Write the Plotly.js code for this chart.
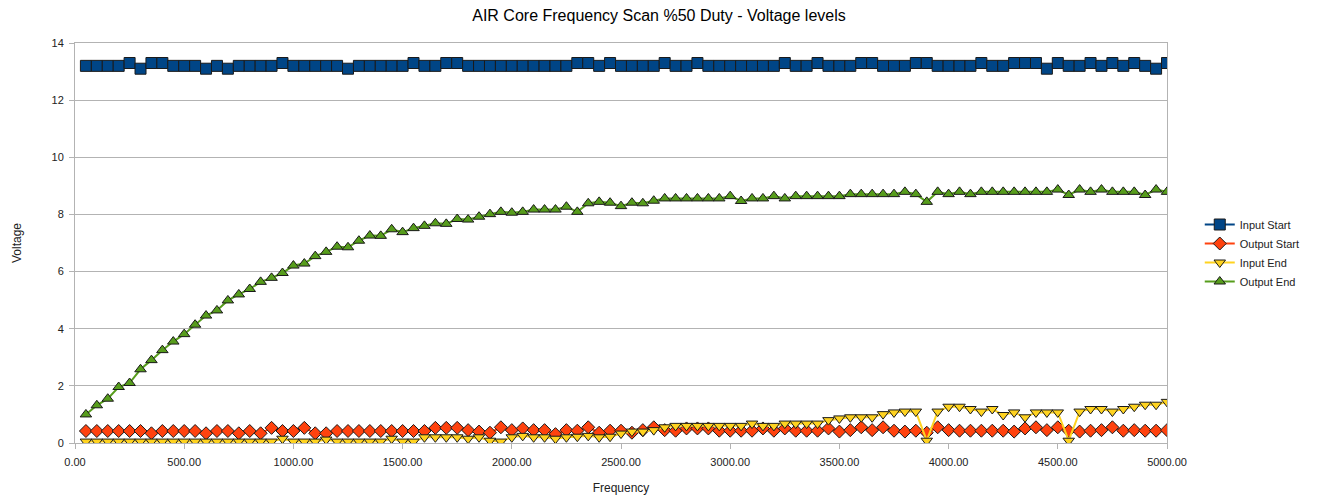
<!DOCTYPE html>
<html>
<head>
<meta charset="utf-8">
<script src="https://cdn.plot.ly/plotly-3.0.1.min.js"></script>
<style>html,body{margin:0;padding:0;background:#fff;}#chart{width:1318px;height:500px;}</style>
</head>
<body>
<div id="chart"></div>
<script>
// Frequency points (Hz)
const frequency = [];
for (let f = 50; f <= 5000; f += 50) frequency.push(f);

const inputStart = [
13.2,13.2,13.2,13.2,13.3,13.1,13.3,13.3,13.2,13.2,
13.2,13.1,13.2,13.1,13.2,13.2,13.2,13.2,13.3,13.2,
13.2,13.2,13.2,13.2,13.1,13.2,13.2,13.2,13.2,13.2,
13.3,13.2,13.2,13.3,13.3,13.2,13.2,13.2,13.2,13.2,
13.2,13.2,13.2,13.2,13.2,13.3,13.3,13.2,13.3,13.2,
13.2,13.2,13.2,13.3,13.2,13.2,13.3,13.2,13.2,13.2,
13.2,13.2,13.2,13.2,13.3,13.2,13.2,13.3,13.2,13.2,
13.2,13.3,13.3,13.2,13.2,13.2,13.3,13.3,13.2,13.2,
13.2,13.2,13.3,13.2,13.2,13.3,13.3,13.3,13.1,13.3,
13.2,13.2,13.3,13.2,13.3,13.2,13.3,13.2,13.1,13.3
];

const outputStart = [
0.42,0.42,0.42,0.42,0.42,0.42,0.34,0.42,0.42,0.42,
0.42,0.34,0.42,0.42,0.34,0.42,0.34,0.53,0.42,0.42,
0.53,0.34,0.34,0.42,0.42,0.42,0.42,0.42,0.42,0.42,
0.42,0.42,0.53,0.53,0.53,0.45,0.4,0.36,0.55,0.45,
0.51,0.45,0.45,0.31,0.45,0.43,0.55,0.36,0.43,0.43,
0.36,0.45,0.55,0.45,0.43,0.51,0.51,0.51,0.43,0.43,
0.43,0.43,0.51,0.43,0.51,0.43,0.43,0.43,0.51,0.4,
0.45,0.55,0.45,0.55,0.43,0.4,0.43,0.36,0.55,0.45,
0.43,0.43,0.43,0.43,0.43,0.4,0.51,0.55,0.45,0.55,
0.43,0.4,0.43,0.45,0.55,0.43,0.45,0.43,0.43,0.45
];

const inputEnd = [
0.05,0.05,0.05,0.05,0.05,0.05,0.05,0.05,0.05,0.05,
0.05,0.05,0.05,0.05,0.05,0.05,0.05,0.05,0.15,0.05,
0.05,0.05,0.12,0.05,0.05,0.05,0.05,0.05,0.15,0.05,
0.05,0.2,0.2,0.2,0.2,0.15,0.2,0.08,0.05,0.2,
0.25,0.2,0.2,0.15,0.2,0.22,0.25,0.2,0.22,0.33,
0.4,0.4,0.45,0.55,0.6,0.6,0.6,0.6,0.6,0.6,
0.6,0.68,0.6,0.6,0.68,0.68,0.68,0.68,0.8,0.86,
0.9,0.9,0.9,1.01,1.07,1.1,1.1,0.08,1.1,1.27,
1.27,1.19,1.1,1.19,0.98,1.07,0.9,1.07,1.07,1.07,
0.08,1.1,1.19,1.19,1.1,1.19,1.27,1.34,1.34,1.44
];

const outputEnd = [
1.0,1.32,1.55,1.96,2.1,2.58,2.9,3.25,3.55,3.81,
4.14,4.46,4.64,4.99,5.2,5.39,5.64,5.78,5.95,6.21,
6.28,6.54,6.69,6.87,6.85,7.08,7.26,7.25,7.48,7.38,
7.52,7.6,7.69,7.67,7.84,7.82,7.92,8.01,8.09,8.06,
8.09,8.17,8.17,8.17,8.27,8.09,8.39,8.44,8.41,8.29,
8.41,8.39,8.48,8.56,8.56,8.56,8.56,8.56,8.56,8.64,
8.47,8.56,8.56,8.64,8.56,8.64,8.64,8.64,8.64,8.64,
8.71,8.71,8.71,8.71,8.71,8.79,8.71,8.44,8.79,8.71,
8.79,8.71,8.79,8.79,8.79,8.79,8.79,8.79,8.79,8.87,
8.68,8.87,8.79,8.87,8.79,8.79,8.79,8.68,8.87,8.79
];

const seriesNames = ['Input Start','Output Start','Input End','Output End'];
const seriesColors = ['#004586','#ff420e','#ffd320','#579d1c'];
const seriesSymbols = ['square','diamond','triangle-down','triangle-up'];
const seriesData = [inputStart, outputStart, inputEnd, outputEnd];
const xTicks = [0,500,1000,1500,2000,2500,3000,3500,4000,4500,5000];

const traces = seriesData.map((ys, k) => ({
  type: 'scatter',
  mode: 'lines+markers',
  name: seriesNames[k],
  x: frequency,
  y: ys,
  line: {color: seriesColors[k], width: 2},
  marker: {symbol: seriesSymbols[k], size: k === 0 ? 11 : 10, color: seriesColors[k],
           line: {color: '#1a1a1a', width: 1}}
}));

const font = 'Liberation Sans, Arial, sans-serif';
const layout = {
  width: 1318, height: 500,
  margin: {l: 75, r: 151, t: 43, b: 57, autoexpand: false},
  paper_bgcolor: '#fff', plot_bgcolor: '#fff',
  font: {family: font, size: 12, color: '#222'},
  title: {text: 'AIR Core Frequency Scan %50 Duty - Voltage levels',
          font: {family: font, size: 16, color: '#000'}, x: 0.5, xanchor: 'center', y: 0.97, yanchor: 'middle'},
  xaxis: {
    range: [0, 5000], tickvals: xTicks, tickformat: '.2f',
    showgrid: false, zeroline: false,
    showline: true, linecolor: '#b3b3b3', linewidth: 1, mirror: true,
    ticks: 'outside', ticklen: 5, tickcolor: '#b3b3b3', ticklabelstandoff: 4,
    tickfont: {family: font, size: 11, color: '#222'},
    title: {text: 'Frequency', font: {family: font, size: 12, color: '#222'}, standoff: 16}
  },
  yaxis: {
    range: [0, 14], dtick: 2,
    showgrid: true, gridcolor: '#b3b3b3', gridwidth: 1, zeroline: false,
    showline: true, linecolor: '#b3b3b3', linewidth: 1, mirror: true,
    ticks: 'outside', ticklen: 5, tickcolor: '#b3b3b3', ticklabelstandoff: 3,
    tickfont: {family: font, size: 11, color: '#222'},
    title: {text: 'Voltage', font: {family: font, size: 12, color: '#222'}, standoff: 27}
  },
  legend: {x: 1.03, y: 0.475, xanchor: 'left', yanchor: 'middle',
           font: {family: font, size: 11, color: '#222'},
           tracegroupgap: 0, itemwidth: 30, bgcolor: 'rgba(0,0,0,0)'},
  showlegend: true
};

Plotly.newPlot('chart', traces, layout, {displayModeBar: false, staticPlot: true});
</script>
</body>
</html>
